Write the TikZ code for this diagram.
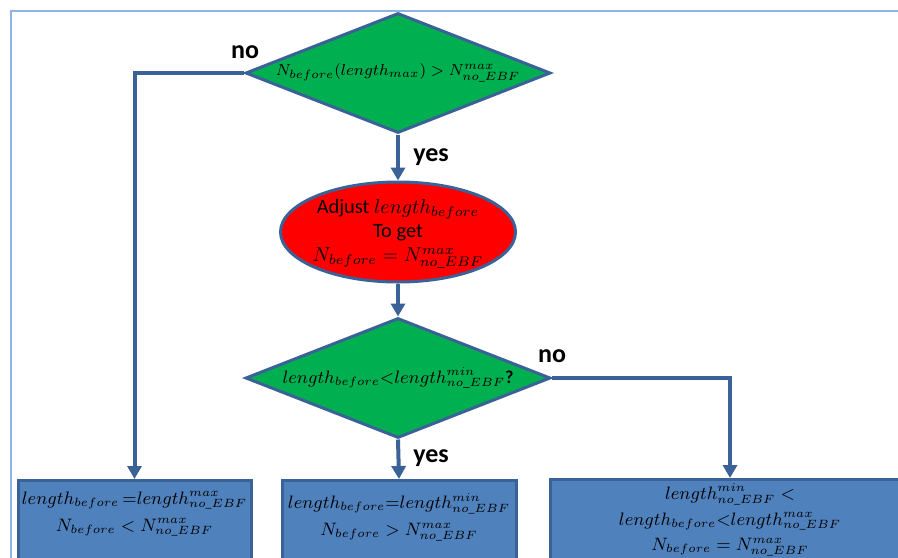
\documentclass[tikz,border=0pt]{standalone}
\usepackage{amsmath,amssymb}
\usepackage{fontspec}
\setmainfont{Carlito}
\usetikzlibrary{arrows.meta,shapes.geometric}
\definecolor{flowgreen}{HTML}{00B050}
\definecolor{flowred}{HTML}{FF0000}
\definecolor{flowblue}{HTML}{4F81BD}
\definecolor{flowedge}{HTML}{3A6296}
\definecolor{framecol}{HTML}{8DB4E2}

\begin{document}
\begin{tikzpicture}[x=0.5pt,y=-0.5pt,>={Triangle[width=7pt,length=6.5pt]},
 decision/.style={diamond,aspect=2.54,draw=flowedge,line width=1.5pt,fill=flowgreen,inner sep=0pt,
  minimum width=152.5pt,minimum height=60pt},
 process/.style={ellipse,draw=flowedge,line width=1.5pt,fill=flowred,inner sep=0pt,
  minimum width=117.5pt,minimum height=50pt},
 result/.style={draw=flowedge,line width=1.5pt,fill=flowblue,anchor=north,minimum height=50pt},
 restext/.style={align=center,font=\fontsize{9}{13.5}\selectfont},
 conn/.style={->,draw=flowedge,line width=2pt},
 lbl/.style={font=\fontsize{13}{15}\selectfont\bfseries}]
\useasboundingbox (0,0) rectangle (898,557);
\clip (0,0) rectangle (898,557);
\draw[framecol,line width=1pt] (11,580) -- (11,11) -- (920,11);
% decisions and adjustment
\node[decision,font=\fontsize{8}{10}\selectfont] (dec1) at (398,73)
 {$N_{before}(length_{max})>N^{max}_{no\_EBF}$};
\node[process] (adj) at (398,232) {};
\node[align=center,font=\fontsize{10.2}{12}\selectfont] (adjtxt) at (398,234)
 {Adjust $length_{before}$\\To get\\$N_{before}=N^{max}_{no\_EBF}$};
\node[decision,font=\fontsize{9.1}{11}\selectfont] (dec2) at (398,378)
 {$length_{before}{<}length^{min}_{no\_EBF}$\textbf{?}};
% results
\node[result,minimum width=116.5pt] (res1) at (134.5,479) {};
\node[restext] (res1txt) at (134.5,514)
 {$length_{before}\,{=}length^{max}_{no\_EBF}$\\$N_{before}<N^{max}_{no\_EBF}$};
\node[result,minimum width=117pt] (res2) at (399,479) {};
\node[restext] (res2txt) at (399,517)
 {$length_{before}{=}length^{min}_{no\_EBF}$\\$N_{before}>N^{max}_{no\_EBF}$};
\node[result,minimum width=180pt] (res3) at (730,478) {};
\node[restext,font=\fontsize{9}{12.8}\selectfont] (res3txt) at (730,520)
 {$length^{min}_{no\_EBF}<$\\$length_{before}{<}length^{max}_{no\_EBF}$\\$N_{before}=N^{max}_{no\_EBF}$};
% connectors
\draw[conn] (dec1.south) -- (adj.north);
\draw[conn] (adj.south) -- (dec2.north);
\draw[conn] (dec2.south) -- (res2.north);
\draw[conn] (dec1.west) -| (res1.north);
\draw[conn] (dec2.east) -| (res3.north);
% labels
\node[lbl] (no1) at (245,52) {no};
\node[lbl] (yes1) at (431,157) {yes};
\node[lbl] (no2) at (552,356) {no};
\node[lbl] (yes2) at (431,458) {yes};
\end{tikzpicture}
\end{document}
